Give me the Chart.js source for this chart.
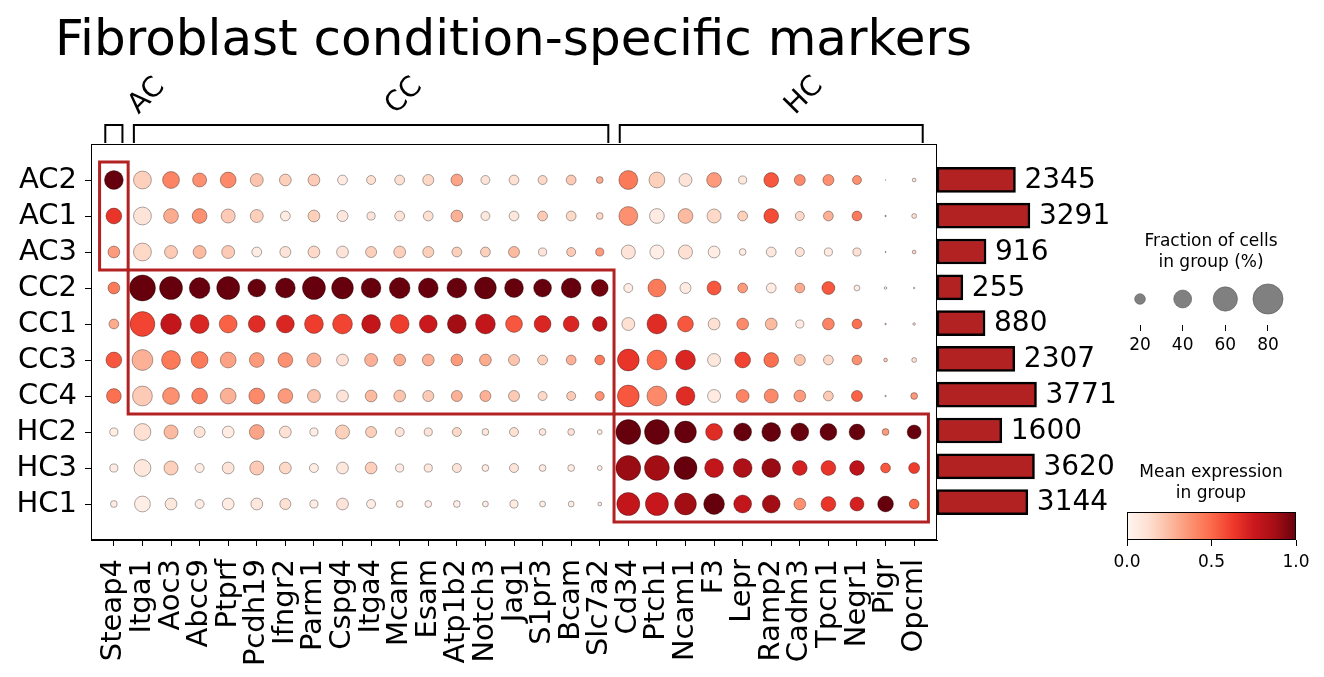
<!DOCTYPE html>
<html>
<head>
<meta charset="utf-8">
<script src="https://cdn.jsdelivr.net/npm/chart.js@4"></script>
<style>
  body { margin: 0; background: #fff; }
  #wrap { position: relative; width: 1324px; height: 677px; overflow: hidden; }
  canvas { position: absolute; }
</style>
</head>
<body>
<div id="wrap">
  <canvas id="dots" width="1324" height="677" style="left:0;top:0"></canvas>
  <canvas id="bars" width="200" height="358" style="left:937px;top:162px"></canvas>
  <canvas id="sizeLegend" width="222" height="145" style="left:1100px;top:225px"></canvas>
  <canvas id="colorbar" width="222" height="120" style="left:1100px;top:455px"></canvas>
</div>
<script>
const groups = ["AC2", "AC1", "AC3", "CC2", "CC1", "CC3", "CC4", "HC2", "HC3", "HC1"];
const genes = ["Steap4", "Itga1", "Aoc3", "Abcc9", "Ptprf", "Pcdh19", "Ifngr2", "Parm1", "Cspg4", "Itga4",
  "Mcam", "Esam", "Atp1b2", "Notch3", "Jag1", "S1pr3", "Bcam", "Slc7a2", "Cd34", "Ptch1",
  "Ncam1", "F3", "Lepr", "Ramp2", "Cadm3", "Tpcn1", "Negr1", "Pigr", "Opcml"];
const cellCounts = [2345, 3291, 916, 255, 880, 2307, 3771, 1600, 3620, 3144];

// gene groups on top (column ranges) and the boxed rows for each
const geneGroupNames = ["AC", "CC", "HC"];
const geneGroupStart = [0, 1, 18];
const geneGroupEnd = [0, 17, 28];
const boxRowStart = [0, 3, 7];
const boxRowEnd = [2, 6, 9];

// fraction of cells in group (%), one row per group
const fraction = [
  [43, 40, 37, 29, 34, 26, 23, 23, 18, 16, 18, 21, 23, 16, 18, 16, 18, 11, 43, 34, 26, 31, 14, 31, 21, 21, 16, 0.5, 5],
  [34, 40, 31, 31, 29, 26, 18, 23, 21, 14, 18, 18, 23, 16, 18, 18, 18, 11, 43, 31, 31, 29, 18, 31, 16, 18, 18, 1.5, 7],
  [23, 40, 26, 26, 26, 18, 21, 23, 23, 21, 23, 21, 18, 18, 21, 14, 16, 14, 29, 29, 29, 23, 11, 18, 16, 14, 14, 1, 5],
  [23, 66, 56, 49, 56, 40, 46, 56, 52, 46, 49, 46, 46, 52, 43, 40, 46, 37, 16, 40, 21, 29, 18, 18, 18, 26, 9, 3, 1.5],
  [18, 62, 49, 43, 40, 37, 40, 43, 46, 43, 43, 40, 43, 46, 37, 37, 34, 31, 26, 46, 34, 23, 23, 23, 14, 23, 18, 1.5, 3],
  [34, 49, 43, 37, 34, 31, 31, 29, 23, 26, 23, 23, 23, 23, 21, 18, 18, 18, 52, 46, 46, 26, 34, 31, 21, 18, 18, 5, 7],
  [31, 46, 37, 34, 34, 34, 31, 26, 23, 23, 23, 21, 21, 21, 21, 16, 16, 16, 52, 46, 43, 26, 26, 29, 23, 18, 21, 1.5, 11],
  [14, 37, 29, 21, 23, 31, 23, 14, 29, 21, 16, 14, 16, 11, 16, 11, 11, 7, 62, 62, 52, 37, 40, 43, 40, 37, 34, 11, 29],
  [14, 37, 29, 16, 23, 29, 23, 16, 23, 23, 14, 14, 16, 11, 16, 11, 11, 7, 62, 62, 56, 43, 43, 43, 31, 31, 31, 18, 21],
  [11, 34, 23, 16, 23, 23, 21, 14, 23, 16, 11, 11, 11, 9, 14, 9, 9, 5, 56, 56, 52, 49, 40, 40, 23, 31, 29, 34, 18]
];

// mean expression in group (0..1), one row per group
const expression = [
  [1.0, .18, .42, .38, .40, .22, .18, .20, .06, .12, .12, .15, .32, .10, .12, .15, .20, .30, .45, .18, .10, .35, .08, .55, .40, .38, .38, .10, .10],
  [.65, .10, .30, .38, .20, .18, .06, .18, .08, .10, .10, .12, .28, .08, .08, .20, .15, .15, .38, .06, .25, .15, .18, .58, .15, .28, .45, .30, .12],
  [.35, .15, .20, .25, .20, .05, .10, .15, .10, .18, .18, .18, .18, .18, .25, .10, .20, .35, .10, .04, .12, .05, .06, .08, .10, .06, .12, .30, .15],
  [.45, 1.0, 1.0, 1.0, 1.0, 1.0, 1.0, 1.0, 1.0, 1.0, 1.0, 1.0, 1.0, 1.0, 1.0, 1.0, 1.0, .98, .05, .45, .06, .55, .35, .06, .30, .55, .05, .05, .05],
  [.30, .60, .78, .70, .52, .68, .70, .62, .60, .78, .62, .75, .88, .78, .55, .70, .70, .78, .12, .68, .55, .12, .40, .25, .06, .42, .48, .30, .10],
  [.55, .28, .45, .45, .33, .35, .38, .28, .12, .28, .30, .28, .35, .30, .22, .18, .28, .45, .65, .50, .70, .08, .60, .48, .22, .15, .38, .20, .12],
  [.48, .20, .38, .43, .28, .40, .35, .22, .10, .25, .22, .20, .28, .28, .20, .15, .20, .38, .55, .40, .68, .06, .42, .40, .35, .20, .52, .20, .35],
  [.05, .12, .25, .10, .06, .32, .12, .05, .18, .18, .10, .10, .15, .08, .12, .08, .10, .06, 1.0, 1.0, 1.0, .68, 1.0, 1.0, 1.0, 1.0, 1.0, .35, 1.0],
  [.06, .08, .18, .05, .10, .20, .15, .05, .08, .18, .06, .08, .10, .06, .10, .06, .05, .04, .90, .88, 1.0, .78, .85, .90, .72, .65, .80, .55, .62],
  [.05, .04, .08, .05, .06, .08, .12, .05, .10, .05, .04, .04, .04, .04, .06, .04, .05, .05, .78, .76, .88, 1.0, .78, .88, .38, .65, .72, 1.0, .50]
];

const legendFractions = [20, 40, 60, 80];
const colorbarTicks = [0, 0.5, 1];

const FONT = "'DejaVu Sans', sans-serif";
const FIREBRICK = "#b22222";

const redsStops = [[255, 245, 240], [254, 224, 210], [252, 187, 161], [252, 146, 114], [251, 106, 74],
  [239, 59, 44], [203, 24, 29], [165, 15, 21], [103, 0, 13]];

const reds = (v) => {
  v = Math.max(0, Math.min(1, v));
  const p = v * 8;
  const i = Math.min(7, Math.floor(p));
  const t = p - i;
  const a = redsStops[i], b = redsStops[i + 1];
  const c = a.map((x, k) => Math.round(x + (b[k] - x) * t));
  return "rgb(" + c[0] + "," + c[1] + "," + c[2] + ")";
};

// dot diameter in px grows as fraction^0.75
const dotRadius = (f) => 0.5625 * Math.pow(f, 0.75);

Chart.defaults.font.family = FONT;
Chart.defaults.color = "#000";
Chart.defaults.animation = false;

// ---------- main dot plot ----------
let points = [];
for (let r = 0; r < groups.length; r++) {
  for (let c = 0; c < genes.length; c++) {
    points.push({ x: c, y: r, r: dotRadius(fraction[r][c]), e: expression[r][c] });
  }
}

const dotDecor = {
  id: "dotDecor",
  afterDraw(chart) {
    const ctx = chart.ctx;
    const a = chart.chartArea;
    const xs = chart.scales.x;
    const ys = chart.scales.y;
    ctx.save();
    // frame
    ctx.strokeStyle = "#000";
    ctx.lineWidth = 1;
    ctx.strokeRect(a.left + 0.5, a.top + 0.5, a.right - a.left - 1, a.bottom - a.top - 1);

    // condition boxes
    ctx.strokeStyle = FIREBRICK;
    ctx.lineWidth = 3;
    for (let g = 0; g < geneGroupNames.length; g++) {
      const x0 = xs.getPixelForValue(geneGroupStart[g] - 0.5);
      const x1 = xs.getPixelForValue(geneGroupEnd[g] + 0.5);
      const y0 = ys.getPixelForValue(boxRowStart[g] - 0.5);
      const y1 = ys.getPixelForValue(boxRowEnd[g] + 0.5);
      ctx.strokeRect(x0, y0, x1 - x0, y1 - y0);
    }

    // brackets and labels
    ctx.strokeStyle = "#000";
    ctx.lineWidth = 2;
    ctx.fillStyle = "#000";
    ctx.font = "28px " + FONT;
    ctx.textAlign = "center";
    ctx.textBaseline = "middle";
    const top = 125, bottom = a.top - 1;
    for (let g = 0; g < geneGroupNames.length; g++) {
      const x0 = xs.getPixelForValue(geneGroupStart[g] - 0.3);
      const x1 = xs.getPixelForValue(geneGroupEnd[g] + 0.3);
      ctx.beginPath();
      ctx.moveTo(x0, bottom);
      ctx.lineTo(x0, top);
      ctx.lineTo(x1, top);
      ctx.lineTo(x1, bottom);
      ctx.stroke();
      const cx = (x0 + x1) / 2;
      ctx.save();
      ctx.translate(cx + 33, 96);
      ctx.rotate(-Math.PI / 4);
      ctx.fillText(geneGroupNames[g], 0, 0);
      ctx.restore();
    }

    // title
    ctx.textAlign = "left";
    ctx.textBaseline = "alphabetic";
    ctx.font = "50px " + FONT;
    ctx.fillText("Fibroblast condition-specific markers", 55, 55);
    ctx.restore();
  }
};

new Chart(document.getElementById("dots"), {
  type: "bubble",
  data: {
    datasets: [{
      data: points,
      backgroundColor: (c) => (c.raw ? reds(c.raw.e) : "#fff"),
      borderColor: "rgba(0,0,0,0.55)",
      borderWidth: 0.6,
      hoverRadius: 0
    }]
  },
  options: {
    responsive: false,
    devicePixelRatio: 1,
    layout: { padding: { top: 144, right: 387, left: 0, bottom: 0 } },
    plugins: { legend: { display: false }, tooltip: { enabled: false } },
    scales: {
      x: {
        type: "linear",
        min: -0.8,
        max: 28.8,
        afterBuildTicks: (s) => { s.ticks = genes.map((g, i) => ({ value: i })); },
        afterFit: (s) => { s.height = 137; },
        ticks: {
          autoSkip: false,
          minRotation: 90,
          maxRotation: 90,
          padding: 13,
          font: { size: 29 },
          callback: (v) => genes[v]
        },
        grid: { drawOnChartArea: false, drawTicks: true, tickLength: 6, color: "#000" },
        border: { display: true, color: "#000", width: 1 }
      },
      y: {
        type: "linear",
        min: -1,
        max: 10,
        reverse: true,
        afterBuildTicks: (s) => { s.ticks = groups.map((g, i) => ({ value: i })); },
        afterFit: (s) => { s.width = 91; },
        ticks: {
          autoSkip: false,
          padding: 8,
          font: { size: 29 },
          callback: (v) => groups[v]
        },
        grid: { drawOnChartArea: false, drawTicks: true, tickLength: 6, color: "#000" },
        border: { display: true, color: "#000", width: 1 }
      }
    }
  },
  plugins: [dotDecor]
});

// ---------- cell count bars ----------
const barLabels = {
  id: "barLabels",
  afterDatasetsDraw(chart) {
    const ctx = chart.ctx;
    const meta = chart.getDatasetMeta(0);
    ctx.save();
    ctx.fillStyle = "#000";
    ctx.font = "28px " + FONT;
    ctx.textAlign = "left";
    ctx.textBaseline = "middle";
    meta.data.forEach((bar, i) => {
      ctx.fillText(String(cellCounts[i]), bar.x + 9, bar.y + 1);
    });
    ctx.restore();
  }
};

new Chart(document.getElementById("bars"), {
  type: "bar",
  data: {
    labels: groups,
    datasets: [{
      data: cellCounts.map((n) => Math.sqrt(n)),
      backgroundColor: FIREBRICK,
      borderColor: "#000",
      borderWidth: 2.5,
      borderSkipped: false,
      barThickness: 25
    }]
  },
  options: {
    indexAxis: "y",
    responsive: false,
    devicePixelRatio: 1,
    layout: { padding: 0 },
    plugins: { legend: { display: false }, tooltip: { enabled: false } },
    scales: {
      x: { display: false, min: 0, max: 200 / 1.62 },
      y: { display: false, offset: true }
    }
  },
  plugins: [barLabels]
});

// ---------- dot size legend ----------
const sizeTitle = {
  id: "sizeTitle",
  afterDraw(chart) {
    const ctx = chart.ctx;
    ctx.save();
    ctx.fillStyle = "#000";
    ctx.font = "17px " + FONT;
    ctx.textAlign = "center";
    ctx.textBaseline = "middle";
    ctx.fillText("Fraction of cells", 111, 17);
    ctx.fillText("in group (%)", 111, 38);
    ctx.restore();
  }
};

new Chart(document.getElementById("sizeLegend"), {
  type: "bubble",
  data: {
    datasets: [{
      data: legendFractions.map((f, i) => ({ x: i, y: 0, r: dotRadius(f) })),
      backgroundColor: "#808080",
      borderColor: "#5a5a5a",
      borderWidth: 0.6,
      hoverRadius: 0
    }]
  },
  options: {
    responsive: false,
    devicePixelRatio: 1,
    layout: { padding: { top: 48, left: 18.7, right: 32.7, bottom: 0 } },
    plugins: { legend: { display: false }, tooltip: { enabled: false } },
    scales: {
      x: {
        type: "linear",
        min: -0.5,
        max: 3.5,
        afterBuildTicks: (s) => { s.ticks = legendFractions.map((f, i) => ({ value: i })); },
        afterFit: (s) => { s.height = 45; },
        ticks: { padding: 4, font: { size: 17 }, callback: (v) => String(legendFractions[v]) },
        grid: { drawOnChartArea: false, drawTicks: true, tickLength: 6, color: "#000" },
        border: { display: false }
      },
      y: { display: false, min: -1, max: 1 }
    }
  },
  plugins: [sizeTitle]
});

// ---------- colour bar ----------
const colorbarDraw = {
  id: "colorbarDraw",
  beforeDatasetsDraw(chart) {
    const ctx = chart.ctx;
    const a = chart.chartArea;
    ctx.save();
    const grad = ctx.createLinearGradient(a.left, 0, a.right, 0);
    redsStops.forEach((c, i) => grad.addColorStop(i / 8, "rgb(" + c.join(",") + ")"));
    ctx.fillStyle = grad;
    ctx.fillRect(a.left, a.top, a.right - a.left, a.bottom - a.top);
    ctx.strokeStyle = "#000";
    ctx.lineWidth = 1;
    ctx.strokeRect(a.left + 0.5, a.top + 0.5, a.right - a.left - 1, a.bottom - a.top - 1);
    ctx.fillStyle = "#000";
    ctx.font = "17px " + FONT;
    ctx.textAlign = "center";
    ctx.textBaseline = "middle";
    ctx.fillText("Mean expression", 111, 18);
    ctx.fillText("in group", 111, 39);
    ctx.restore();
  }
};

new Chart(document.getElementById("colorbar"), {
  type: "scatter",
  data: { datasets: [{ data: [] }] },
  options: {
    responsive: false,
    devicePixelRatio: 1,
    layout: { padding: { top: 57, left: 27, right: 26, bottom: 0 } },
    plugins: { legend: { display: false }, tooltip: { enabled: false } },
    scales: {
      x: {
        type: "linear",
        min: 0,
        max: 1,
        afterBuildTicks: (s) => { s.ticks = colorbarTicks.map((v) => ({ value: v })); },
        afterFit: (s) => { s.height = 35; },
        ticks: { padding: 6, font: { size: 17 }, callback: (v) => Number(v).toFixed(1) },
        grid: { drawOnChartArea: false, drawTicks: true, tickLength: 6, color: "#000" },
        border: { display: false }
      },
      y: { display: false, min: 0, max: 1 }
    }
  },
  plugins: [colorbarDraw]
});
</script>
</body>
</html>
